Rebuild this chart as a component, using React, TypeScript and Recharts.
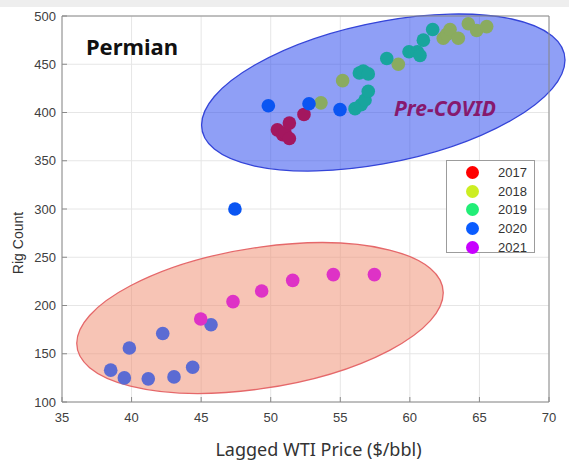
import React from 'react';
import {
  ScatterChart,
  Scatter,
  XAxis,
  YAxis,
  CartesianGrid,
  ReferenceArea,
  ReferenceDot,
  Legend,
} from 'recharts';

// ---------- tick labels ----------
const xTicks = [35, 40, 45, 50, 55, 60, 65, 70];
const yTicks = [100, 150, 200, 250, 300, 350, 400, 450, 500];

// ---------- legend ----------
const years = ['2017', '2018', '2019', '2020', '2021'];
const legendColors = ['#ff0000', '#ccee22', '#22ee77', '#0a5cff', '#c800ff'];

// ---------- data (lagged WTI price $/bbl, rig count) ----------
const price2017 = [50.48, 50.86, 51.03, 51.34, 51.34, 52.39];
const rigs2017 = [382, 377, 379, 373, 389, 398];

const price2018 = [53.61, 55.17, 59.17, 62.4, 62.65, 62.89, 63.48, 64.2, 64.8, 65.52];
const rigs2018 = [410, 433, 450, 477, 481, 486, 477, 492, 485, 489];

const price2019 = [56.06, 56.5, 56.78, 57.01, 56.37, 56.65, 57.01, 58.34, 59.94, 60.54, 60.73, 60.97, 61.64];
const rigs2019 = [404, 408, 413, 422, 441, 443, 440, 456, 463, 463, 459, 475, 486];

const price2020Pre = [49.83, 52.75, 54.98, 47.43];
const rigs2020Pre = [407, 409, 403, 300];

const price2020 = [38.5, 39.48, 39.84, 41.2, 42.24, 43.05, 44.39, 45.71];
const rigs2020 = [133, 125, 156, 124, 171, 126, 136, 180];

const price2021 = [44.97, 47.29, 49.35, 51.58, 54.5, 57.45];
const rigs2021 = [186, 204, 215, 226, 232, 232];

// ---------- annotation ellipses (data space: centre + two conjugate half-axes) ----------
const preCovidEllipse = { cx: 58.09, cy: 420.7, ux: 13.06, uy: 33.7, vx: 0, vy: 74.05 };
const covidEllipse = { cx: 49.23, cy: 187.0, ux: 13.17, uy: 26.2, vx: 0, vy: 73.5 };

const toPoints = (xs: number[], ys: number[]) => xs.map((x, i) => ({ x, y: ys[i] }));

const series = [
  { name: '2017', data: toPoints(price2017, rigs2017), color: '#a3175f' },
  { name: '2018', data: toPoints(price2018, rigs2018), color: '#8aab5f' },
  { name: '2019', data: toPoints(price2019, rigs2019), color: '#18a59d' },
  { name: '2020', data: toPoints(price2020Pre, rigs2020Pre), color: '#0a55f2' },
  { name: '2020b', data: toPoints(price2020, rigs2020), color: '#5b6bd3' },
  { name: '2021', data: toPoints(price2021, rigs2021), color: '#de32c6' },
];

type Ell = { cx: number; cy: number; ux: number; uy: number; vx: number; vy: number };

const ellipseShape = (e: Ell, fill: string, fillOpacity: number, stroke: string) => (p: any) => {
  const kx = p.width / 2;
  const ky = p.height / 2;
  const cx = p.x + p.width / 2;
  const cy = p.y + p.height / 2;
  const a = e.ux * kx;
  const b = -e.uy * ky;
  const c = e.vx * kx;
  const d = -e.vy * ky;
  return (
    <ellipse
      cx={0}
      cy={0}
      rx={1}
      ry={1}
      transform={`matrix(${a} ${b} ${c} ${d} ${cx} ${cy})`}
      fill={fill}
      fillOpacity={fillOpacity}
      stroke={stroke}
      strokeWidth={1.3}
      vectorEffect="non-scaling-stroke"
    />
  );
};

const dot = (color: string) => (p: any) => (
  <circle cx={p.cx} cy={p.cy} r={6.8} fill={color} />
);

const LegendBox = () => (
  <div
    style={{
      width: 89,
      height: 93,
      border: '1px solid #9c9c9c',
      background: '#ffffff',
      boxSizing: 'border-box',
      paddingTop: 2,
      fontFamily: '"Liberation Sans", Arial, sans-serif',
    }}
  >
    {years.map((y, i) => (
      <div key={y} style={{ display: 'flex', alignItems: 'center', height: 18.7 }}>
        <span
          style={{
            display: 'inline-block',
            width: 13,
            height: 13,
            borderRadius: '50%',
            background: legendColors[i],
            marginLeft: 19,
          }}
        />
        <span style={{ marginLeft: 19, fontSize: 13, color: '#333' }}>{y}</span>
      </div>
    ))}
  </div>
);

const tickStyle = { fontSize: 13, fill: '#404040', fontFamily: '"Liberation Sans", Arial, sans-serif' };

export default function App() {
  return (
    <div
      style={{
        position: 'absolute',
        left: 0,
        top: 0,
        width: 569,
        height: 471,
        background: '#ffffff',
        overflow: 'hidden',
      }}
    >
      <ScatterChart width={569} height={471} margin={{ top: 15, right: 19, bottom: 44, left: 0 }}>
        <CartesianGrid stroke="#e6e6e6" strokeWidth={1} />
        <XAxis
          xAxisId={0}
          type="number"
          dataKey="x"
          domain={[35, 70]}
          ticks={xTicks}
          height={25}
          tickSize={-5}
          tickMargin={16}
          tick={tickStyle}
          stroke="#8a8a8a"
          allowDataOverflow
          label={{
            value: 'Lagged WTI Price ($/bbl)',
            content: (props: any) => (
              <text
                x={props.viewBox.x + props.viewBox.width / 2 + 13}
                y={456}
                textAnchor="middle"
                fontSize={18}
                fill="#333"
                fontFamily='"Noto Sans", "Open Sans", sans-serif'
              >
                Lagged WTI Price ($/bbl)
              </text>
            ),
          }}
        />
        <XAxis
          xAxisId="top"
          orientation="top"
          type="number"
          domain={[35, 70]}
          ticks={xTicks}
          height={1}
          tickSize={-5}
          tick={false}
          stroke="#8a8a8a"
          allowDataOverflow
        />
        <YAxis
          yAxisId={0}
          type="number"
          dataKey="y"
          domain={[100, 500]}
          ticks={yTicks}
          width={62}
          tickSize={-5}
          tickMargin={11}
          tick={tickStyle}
          stroke="#8a8a8a"
          allowDataOverflow
          label={{
            value: 'Rig Count',
            content: (props: any) => {
              const cy = props.viewBox.y + props.viewBox.height / 2 + 34;
              return (
                <text
                  x={23}
                  y={cy}
                  transform={`rotate(-90 23 ${cy})`}
                  textAnchor="middle"
                  fontSize={14}
                  fill="#333"
                  fontFamily='"Liberation Sans", Arial, sans-serif'
                >
                  Rig Count
                </text>
              );
            },
          }}
        />
        <YAxis
          yAxisId="right"
          orientation="right"
          type="number"
          domain={[100, 500]}
          ticks={yTicks}
          width={1}
          tickSize={-5}
          tick={false}
          stroke="#8a8a8a"
          allowDataOverflow
        />

        <ReferenceArea
          x1={covidEllipse.cx - 1}
          x2={covidEllipse.cx + 1}
          y1={covidEllipse.cy - 1}
          y2={covidEllipse.cy + 1}
          ifOverflow="visible"
          shape={ellipseShape(covidEllipse, '#f0896b', 0.5, '#e5686a')}
        />
        <ReferenceArea
          x1={preCovidEllipse.cx - 1}
          x2={preCovidEllipse.cx + 1}
          y1={preCovidEllipse.cy - 1}
          y2={preCovidEllipse.cy + 1}
          ifOverflow="visible"
          shape={ellipseShape(preCovidEllipse, '#2040ee', 0.5, '#3444d8')}
        />

        {series.map((s) => (
          <Scatter
            key={s.name}
            name={s.name}
            data={s.data}
            fill={s.color}
            shape={dot(s.color)}
            isAnimationActive={false}
            legendType="none"
          />
        ))}

        <ReferenceDot
          x={36.72}
          y={459.6}
          r={0}
          ifOverflow="visible"
          shape={(p: any) => (
            <text
              x={p.cx}
              y={p.cy}
              fontSize={22}
              fontWeight="bold"
              fill="#111"
              fontFamily='"Noto Sans", "Open Sans", sans-serif'
            >
              Permian
            </text>
          )}
        />
        <ReferenceDot
          x={62.53}
          y={396.4}
          r={0}
          ifOverflow="visible"
          shape={(p: any) => (
            <text
              x={p.cx}
              y={p.cy}
              textAnchor="middle"
              fontSize={21}
              fontWeight="bold"
              fontStyle="italic"
              fill="#86196e"
              fontFamily='"Noto Sans", "Open Sans", sans-serif'
            >
              Pre-COVID
            </text>
          )}
        />

        <Legend
          layout="horizontal"
          verticalAlign="middle"
          align="center"
          content={() => <LegendBox />}
          wrapperStyle={{ position: 'absolute', left: 446, top: 160, width: 89, height: 93 }}
        />
      </ScatterChart>
      <div
        style={{ position: 'absolute', left: 0, top: 0, width: 569, height: 7, background: '#eeeeee' }}
      />
    </div>
  );
}
